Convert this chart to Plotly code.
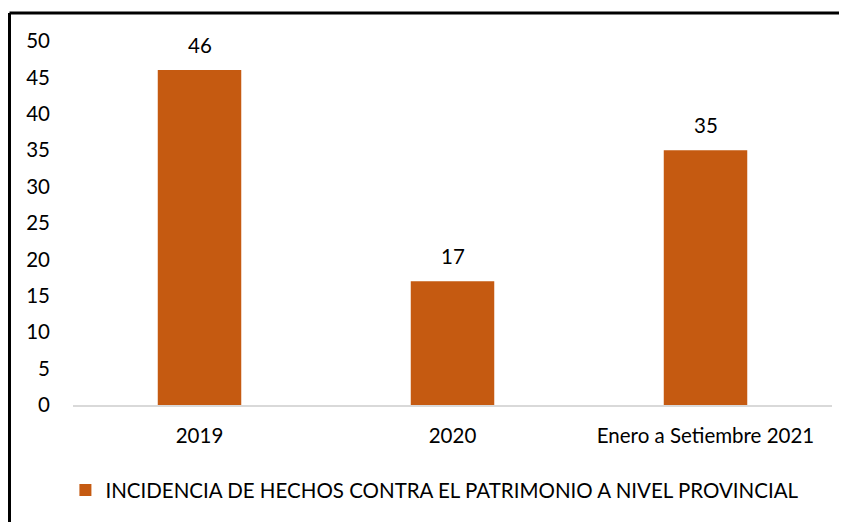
import plotly.graph_objects as go

categories = ["2019", "2020", "Enero a Setiembre 2021"]
values = [46, 17, 35]
series_name = "INCIDENCIA DE HECHOS CONTRA EL PATRIMONIO A NIVEL PROVINCIAL"
y_ticks = [0, 5, 10, 15, 20, 25, 30, 35, 40, 45, 50]

FONT = "Lato, Noto Sans, sans-serif"
COLOR = "#C55A11"
FS = 20.5

fig = go.Figure()
fig.add_trace(go.Bar(
    x=categories, y=values, name=series_name,
    marker=dict(color=COLOR, line=dict(width=0)),
    showlegend=True,
))

# page has an 8px body margin; compensate
OFF = 8
W, H = 847 - OFF, 522 - OFF
L, R, T, B = 73 - OFF, 15, 41 - OFF, 117
pw = W - L - R
ph = H - T - B
x_frame = (9.5 - OFF - L) / pw
y_frame = (H - B - (13 - OFF)) / ph

fig.add_shape(type="line", xref="paper", yref="paper",
              x0=x_frame, x1=x_frame, y0=-1.0, y1=y_frame,
              line=dict(color="#000000", width=3))
fig.add_shape(type="line", xref="paper", yref="paper",
              x0=x_frame, x1=1.2, y0=y_frame, y1=y_frame,
              line=dict(color="#000000", width=3))

fig.update_layout(
    width=W, height=H,
    margin=dict(l=L, r=R, t=T, b=B, autoexpand=False),
    paper_bgcolor="white", plot_bgcolor="white",
    bargap=0.67,
    font=dict(family=FONT, size=FS, color="#000000"),
    legend=dict(orientation="h", x=-0.01, xanchor="left", y=-0.234, yanchor="middle",
                font=dict(size=FS), itemwidth=30),
)
fig.update_xaxes(type="category", categoryorder="array", categoryarray=categories,
                 range=[-0.5, len(categories) - 0.5],
                 showgrid=False, showline=True, linecolor="#D9D9D9",
                 linewidth=1.5, ticks="outside", ticklen=12,
                 tickcolor="rgba(0,0,0,0)", tickfont=dict(size=FS))
fig.update_yaxes(range=[0, 50], tickvals=y_ticks, showgrid=False, zeroline=False,
                 showline=False, ticks="", tickfont=dict(size=FS),
                 ticklabelstandoff=22)

for i, v in enumerate(values):
    fig.add_annotation(x=i, y=v, xref="x", yref="y", text=str(v), showarrow=False,
                       yanchor="bottom", yshift=11,
                       font=dict(family=FONT, size=FS, color="#000000"))

fig.write_html("out.html")
